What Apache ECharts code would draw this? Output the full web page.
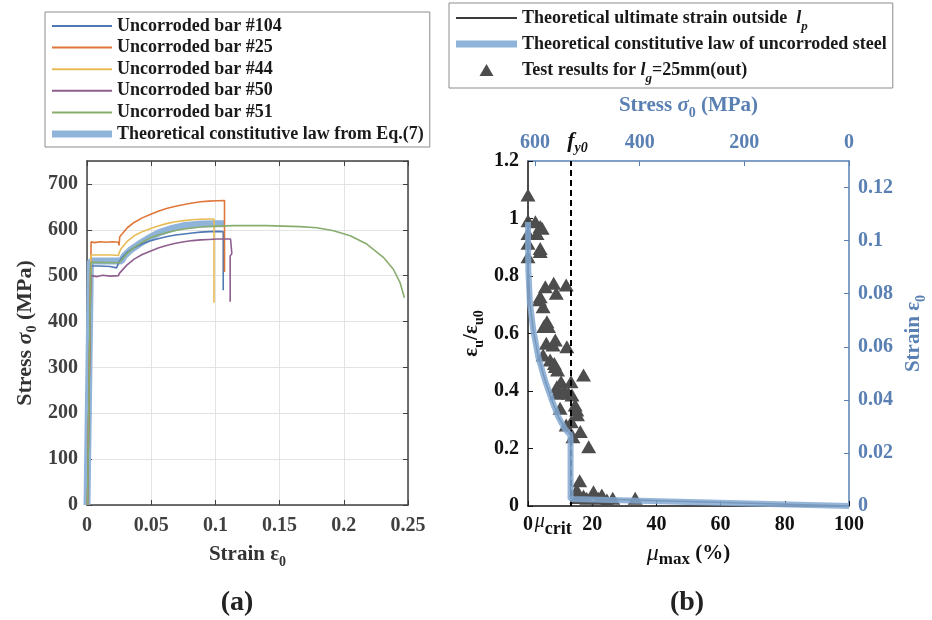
<!DOCTYPE html>
<html><head><meta charset="utf-8">
<script src="https://cdn.jsdelivr.net/npm/echarts@6/dist/echarts.min.js"></script>
<style>html,body{margin:0;padding:0;background:#fff}#c{width:932px;height:620px}</style>
</head><body><div id="c"></div>
<script>
// ---------- Data: panel (a) stress-strain curves ----------
const bar104Strain = [0.0004,0.0029,0.01,0.018,0.023,0.0245,0.025,0.0264,0.031,0.0367,0.043,0.0497,0.056,0.0626,0.069,0.0756,0.082,0.0885,0.095,0.1014,0.1061,0.1061];
const bar104Stress = [0,521,521,520,517,517,530,536,550,561,569.5,576,581,585.5,588.5,591,593,595,596,596.5,596,468];
const bar25Strain = [0.0004,0.0032,0.006,0.01,0.015,0.02,0.0245,0.025,0.0255,0.0316,0.0367,0.043,0.0497,0.056,0.0626,0.069,0.0756,0.082,0.0885,0.095,0.1014,0.1071,0.1071];
const bar25Stress = [0,574,572,574,573,574,573,566,585,605,616,626,634,641,647,651.5,655,658.5,661,662.5,663.5,664,508];
const bar44Strain = [0.0004,0.003,0.01,0.02,0.0245,0.025,0.0264,0.031,0.0367,0.043,0.0497,0.056,0.0626,0.069,0.0756,0.082,0.0885,0.095,0.0989,0.0989];
const bar44Stress = [0,545,545,545,544,550,558,574,587,596,603,609,614,617.5,620,622,623,623.5,623.5,441];
const bar50Strain = [0.0004,0.0029,0.008,0.012,0.018,0.0245,0.0252,0.0264,0.031,0.0367,0.043,0.0497,0.056,0.0626,0.069,0.0756,0.082,0.0885,0.095,0.1014,0.1118,0.1128,0.1128,0.1115,0.1115];
const bar50Stress = [0,500,498,501,499,500,505,507,523,536,546,554,561,566.5,570.5,574,576.5,578,579,580,580,577,548,543,443];
const bar51Strain = [0.0004,0.0029,0.01,0.02,0.025,0.0264,0.031,0.0367,0.043,0.0497,0.056,0.0626,0.069,0.0756,0.082,0.0885,0.095,0.1014,0.1144,0.14,0.166,0.1791,0.192,0.205,0.2179,0.2308,0.2386,0.2438,0.2472];
const bar51Stress = [0,529,529,528,528,532,548,561,573,583,589,594,598.5,601.6,604,606,607.2,608,609,609,607,604.5,598,587,569,540,514,485,452];
// Theoretical constitutive law (used in both panels)
const lawStrain = [0,0.00266,0.025,0.0268,0.029,0.0337,0.04,0.0474,0.0562,0.0663,0.0764,0.089,0.1,0.107];
const lawStress = [0,532,532,532.5,542.8,555.6,567.9,580.8,593.7,603.2,609.6,612.7,613.2,613.3];

// ---------- Data: panel (b) ----------
const ultMu = [0,0.1,0.6,1.65,3.2,5.3,7.4,9.4,11.5,13.3,13.3,100];
const ultRatio = [1.0,0.82,0.705,0.612,0.519,0.438,0.369,0.311,0.27,0.247,0.027,0];
const testMu = [0,0,2.3,3.8,4.4,2.8,0,0,3.8,3.8,0,5.4,8,11.9,8.8,3.8,3.6,4.7,5.9,5.4,6.4,4.9,8.5,5.7,7.8,12.1,4.7,6.9,8.2,8.5,9.2,10.3,13.4,17.3,9,11.3,12.6,9,13.7,14.7,15.2,10,15.4,13.5,11.9,16.3,14,18.9,16.1,15.2,20.4,23,17.3,15.2,18.3,26.4,33.4,24.6,22];
const testRatio = [1.082,0.992,0.989,0.972,0.966,0.948,0.948,0.914,0.896,0.885,0.867,0.763,0.775,0.769,0.74,0.728,0.717,0.693,0.641,0.630,0.624,0.624,0.577,0.566,0.56,0.554,0.525,0.508,0.496,0.485,0.473,0.432,0.432,0.456,0.415,0.403,0.392,0.392,0.386,0.351,0.334,0.34,0.317,0.293,0.282,0.259,0.241,0.206,0.088,0.056,0.05,0.038,0.035,0.03,0.027,0.027,0.027,0.021,0.027];
const muCrit = 13.3;
const fy0 = 532;

// axis ranges / ticks
const strainTicksA = {min:0, max:0.25, interval:0.05};
const stressTicksA = {min:0, max:750, interval:100};
const muTicks = {min:0, max:100, interval:20};
const stressTicksB = {min:0, max:613.3, interval:200};
const ratioTicks = {min:0, max:1.2, interval:0.2};
const strainTicksB = {min:0, max:0.13, interval:0.02};

const zip = (a, b) => a.map((v, i) => [v, b[i]]);

const F = 'Liberation Serif';
const GRAY = '#404040', BLK = '#111111', BLUE = '#5a80b3', LAW = '#8fb3d9';
const expColors = ['#4f78b4', '#e0773a', '#e8bb55', '#8e5f8e', '#89ad6e'];
const thin = 'path://M0 0H60V2H0Z';
const thick = 'path://M0 0H60V7H0Z';
const tri = 'path://M7 0L14 12H0Z';

function nameStyle(color, size) {
  const base = {fontFamily: F, fontWeight: 'bold', fontSize: size, color: color, lineHeight: 28};
  return Object.assign({}, base, {rich: {
    s: {fontFamily: F, fontWeight: 'bold', fontStyle: 'italic', fontSize: size, color: color, lineHeight: 28},
    n: {fontFamily: F, fontWeight: 'bold', fontSize: size, color: color, lineHeight: 28},
    sub: {fontFamily: F, fontWeight: 'bold', fontSize: 14, color: color, lineHeight: 14, verticalAlign: 'bottom'},
    mu: {fontFamily: F, fontStyle: 'italic', fontWeight: 'normal', fontSize: 24, color: color, lineHeight: 28},
    msub: {fontFamily: F, fontWeight: 'bold', fontSize: 17, color: color, lineHeight: 17, verticalAlign: 'bottom'}
  }});
}
function lab(color, margin, showMax) {
  return {color: color, fontFamily: F, fontWeight: 'bold', fontSize: 20, margin: margin, showMaxLabel: showMax, showMinLabel: true};
}
function tick(color) { return {inside: true, length: 5, lineStyle: {color: color, width: 1}}; }

const expNames = ['Uncorroded bar #104', 'Uncorroded bar #25', 'Uncorroded bar #44', 'Uncorroded bar #50', 'Uncorroded bar #51'];
const expData = [zip(bar104Strain, bar104Stress), zip(bar25Strain, bar25Stress), zip(bar44Strain, bar44Stress), zip(bar50Strain, bar50Stress), zip(bar51Strain, bar51Stress)];
const lawNameA = 'Theoretical constitutive law from Eq.(7)';
const ultName = 'Theoretical ultimate strain outside lp';
const lawNameB = 'Theoretical constitutive law of uncorroded steel';
const testName = 'Test results for lg=25mm(out)';

const series = [];
series.push({type: 'line', name: lawNameA, xAxisIndex: 0, yAxisIndex: 0, data: zip(lawStrain, lawStress),
  symbol: 'none', lineStyle: {color: LAW, width: 7}, itemStyle: {color: LAW}, z: 2});
expNames.forEach((n, i) => series.push({type: 'line', name: n, xAxisIndex: 0, yAxisIndex: 0, data: expData[i],
  symbol: 'none', lineStyle: {color: expColors[i], width: 1.6}, itemStyle: {color: expColors[i]}, z: 3}));
series.push({type: 'scatter', name: testName, xAxisIndex: 2, yAxisIndex: 2, data: zip(testMu, testRatio),
  symbol: 'triangle', symbolSize: [15, 13], itemStyle: {color: '#4d4d4d', opacity: 1}, clip: false, z: 3,
  markLine: {silent: true, symbol: ['none', 'none'], label: {show: false},
    lineStyle: {color: '#000', type: [6, 4], width: 2}, data: [{xAxis: muCrit}]}});
series.push({type: 'line', name: ultName, xAxisIndex: 2, yAxisIndex: 2, data: zip(ultMu, ultRatio),
  symbol: 'none', lineStyle: {color: '#3a3a3a', width: 1.5}, itemStyle: {color: '#3a3a3a'}, z: 4});
series.push({type: 'line', name: lawNameB, xAxisIndex: 3, yAxisIndex: 3, data: zip(lawStress, lawStrain),
  symbol: 'none', lineStyle: {color: '#82a8d2', width: 6, opacity: 0.85}, itemStyle: {color: LAW}, z: 5});

const legendText = {fontFamily: F, fontWeight: 'bold', fontSize: 18, color: '#1a1a1a'};

const option = {
  animation: false,
  backgroundColor: '#fff',
  grid: [
    {left: 87, top: 161, width: 321, height: 344},
    {left: 528, top: 161, width: 321, height: 345}
  ],
  xAxis: [
    Object.assign({gridIndex: 0, type: 'value', position: 'bottom',
      axisLine: {onZero: false, lineStyle: {color: GRAY, width: 1.5}}, axisTick: tick(GRAY),
      axisLabel: lab(GRAY, 11, true), splitLine: {show: true, lineStyle: {color: '#e3e3e3'}},
      name: 'Strain {n|ε}{sub|0}', nameLocation: 'middle', nameGap: 31, nameTextStyle: nameStyle('#333', 21)}, strainTicksA),
    Object.assign({gridIndex: 0, type: 'value', position: 'top',
      axisLine: {onZero: false, lineStyle: {color: GRAY, width: 1.5}}, axisTick: tick(GRAY),
      axisLabel: {show: false}, splitLine: {show: false}}, strainTicksA),
    Object.assign({gridIndex: 1, type: 'value', position: 'bottom',
      axisLine: {onZero: false, lineStyle: {color: BLK, width: 1.5}}, axisTick: tick(BLK),
      axisLabel: lab(BLK, 9, true), splitLine: {show: false},
      name: '{mu|μ}{msub|max} (%)', nameLocation: 'middle', nameGap: 34, nameTextStyle: nameStyle(BLK, 21)}, muTicks),
    Object.assign({gridIndex: 1, type: 'value', position: 'top', inverse: true,
      axisLine: {onZero: false, lineStyle: {color: BLUE, width: 1.5}}, axisTick: tick(BLUE),
      axisLabel: lab(BLUE, 8, false), splitLine: {show: false},
      name: 'Stress {s|σ}{sub|0} (MPa)', nameLocation: 'middle', nameGap: 41, nameTextStyle: nameStyle(BLUE, 21)}, stressTicksB)
  ],
  yAxis: [
    Object.assign({gridIndex: 0, type: 'value', position: 'left',
      axisLine: {onZero: false, lineStyle: {color: GRAY, width: 1.5}}, axisTick: tick(GRAY),
      axisLabel: lab(GRAY, 9, false), splitLine: {show: true, lineStyle: {color: '#e3e3e3'}},
      name: 'Stress {s|σ}{sub|0} (MPa)', nameLocation: 'middle', nameRotate: 90, nameGap: 48, nameTextStyle: nameStyle('#333', 22)}, stressTicksA),
    Object.assign({gridIndex: 0, type: 'value', position: 'right',
      axisLine: {onZero: false, lineStyle: {color: GRAY, width: 1.5}}, axisTick: tick(GRAY),
      axisLabel: {show: false}, splitLine: {show: false}}, stressTicksA),
    Object.assign({gridIndex: 1, type: 'value', position: 'left',
      axisLine: {onZero: false, lineStyle: {color: BLK, width: 1.5}}, axisTick: tick(BLK),
      axisLabel: lab(BLK, 9, true), splitLine: {show: false},
      name: '{n|ε}{sub|u}{n|/ε}{sub|u0}', nameLocation: 'middle', nameRotate: 90, nameGap: 42, nameTextStyle: nameStyle(BLK, 21)}, ratioTicks),
    Object.assign({gridIndex: 1, type: 'value', position: 'right',
      axisLine: {onZero: false, lineStyle: {color: BLUE, width: 1.5}}, axisTick: tick(BLUE),
      axisLabel: lab(BLUE, 9, false), splitLine: {show: false},
      name: 'Strain {n|ε}{sub|0}', nameLocation: 'middle', nameRotate: 90, nameGap: 51, nameTextStyle: nameStyle(BLUE, 21)}, strainTicksB)
  ],
  legend: [
    {orient: 'vertical', left: 45, top: 12, padding: [4, 6, 3, 7], borderColor: '#8c8c8c', borderWidth: 1,
      backgroundColor: '#fff', itemWidth: 60, itemHeight: 14, itemGap: 1.6, selectedMode: false,
      itemStyle: {borderWidth: 0}, textStyle: Object.assign({lineHeight: 20}, legendText),
      data: expNames.map(n => ({name: n, icon: thin})).concat([{name: lawNameA, icon: thick}])},
    {orient: 'vertical', left: 449, top: 3, padding: [0, 6, 3, 7], borderColor: '#8c8c8c', borderWidth: 1,
      backgroundColor: '#fff', itemWidth: 61, itemHeight: 12, itemGap: -4, selectedMode: false,
      itemStyle: {borderWidth: 0},
      textStyle: Object.assign({lineHeight: 30, rich: {
        i: Object.assign({}, legendText, {fontStyle: 'italic', lineHeight: 30}),
        t: Object.assign({}, legendText, {lineHeight: 30}),
        sub: Object.assign({}, legendText, {fontStyle: 'italic', fontSize: 13, lineHeight: 13, verticalAlign: 'bottom'})
      }}, legendText),
      formatter: function (name) {
        if (name === ultName) return 'Theoretical ultimate strain outside  {i|l}{sub|p}';
        if (name === testName) return 'Test results for {i|l}{sub|g}{t|=25mm(out)}';
        return name;
      },
      data: [{name: ultName, icon: thin}, {name: lawNameB, icon: thick}, {name: testName, icon: tri}]}
  ],
  series: series
};

const chart = echarts.init(document.getElementById('c'), null, {renderer: 'canvas'});
chart.setOption(option);

const critX = chart.convertToPixel({xAxisIndex: 2}, muCrit);
const fyX = chart.convertToPixel({xAxisIndex: 3}, fy0);
chart.setOption({graphic: [
  {type: 'text', id: 'pa', style: {text: '(a)', x: 237, y: 603, align: 'center', verticalAlign: 'middle',
    font: 'bold 28px "Liberation Serif"', fill: '#222'}},
  {type: 'text', id: 'pb', style: {text: '(b)', x: 687, y: 603, align: 'center', verticalAlign: 'middle',
    font: 'bold 28px "Liberation Serif"', fill: '#222'}},
  {type: 'text', id: 'crit', style: {text: '{m|μ}{c|crit}', x: critX + 1, y: 525, align: 'right', verticalAlign: 'middle',
    rich: {m: {fontFamily: F, fontStyle: 'italic', fontSize: 20, lineHeight: 26, verticalAlign: 'top', fill: BLK},
           c: {fontFamily: F, fontWeight: 'bold', fontSize: 18, lineHeight: 18, verticalAlign: 'bottom', fill: BLK}},
    fill: BLK}},
  {type: 'text', id: 'fy', style: {text: '{f|f}{s|y0}', x: fyX + 7, y: 141, align: 'center', verticalAlign: 'middle',
    rich: {f: {fontFamily: F, fontStyle: 'italic', fontWeight: 'bold', fontSize: 22, lineHeight: 28, fill: BLK},
           s: {fontFamily: F, fontStyle: 'italic', fontWeight: 'bold', fontSize: 14, lineHeight: 14, verticalAlign: 'bottom', fill: BLK}},
    fill: BLK}}
]});
</script></body></html>
